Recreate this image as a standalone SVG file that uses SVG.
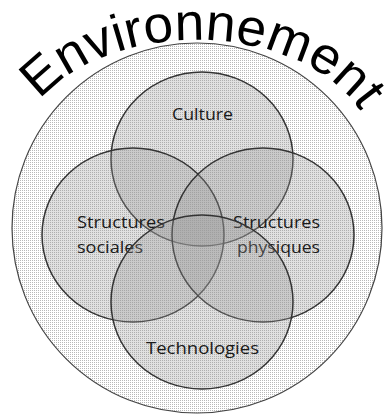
<svg xmlns="http://www.w3.org/2000/svg" width="384" height="414" viewBox="0 0 384 414">
  <defs>
    <pattern id="dots" width="2" height="2" patternUnits="userSpaceOnUse">
      <rect width="2" height="2" fill="#ffffff"/>
      <rect width="1" height="1" fill="#b8b8b8"/>
    </pattern>
    <path id="arc" d="M 40 100 A 180 120 0 0 1 374 142" fill="none"/>
  </defs>
  <style>
    .set { fill: #999999; fill-opacity: 0.3; stroke: #333333; stroke-width: 1.5; }
    .lbl { font-family: "Open Sans", "Noto Sans", sans-serif; font-size: 17px; fill: #1a1a1a; }
    .title { font-family: "Liberation Sans", Arial, sans-serif; font-size: 52px; fill: #000000; }
  </style>
  <rect width="384" height="414" fill="#ffffff"/>
  <g id="environnement">
    <circle cx="197" cy="228" r="185" fill="url(#dots)" stroke="#444444" stroke-width="1.2"/>
    <text class="title" textLength="358" lengthAdjust="spacingAndGlyphs"><textPath href="#arc" startOffset="0" textLength="358" lengthAdjust="spacingAndGlyphs">Environnement</textPath></text>
  </g>
  <g id="connectors"/>
  <g id="culture">
    <ellipse class="set" cx="202" cy="159" rx="91" ry="87"/>
    <text class="lbl" x="202.5" y="120" text-anchor="middle" textLength="61" lengthAdjust="spacingAndGlyphs">Culture</text>
  </g>
  <g id="structures-sociales">
    <ellipse class="set" cx="133" cy="235" rx="91" ry="87"/>
    <text class="lbl" x="77" y="228" textLength="88" lengthAdjust="spacingAndGlyphs">Structures</text>
    <text class="lbl" x="77" y="253" textLength="66" lengthAdjust="spacingAndGlyphs">sociales</text>
  </g>
  <g id="structures-physiques">
    <ellipse class="set" cx="263" cy="235" rx="91" ry="87"/>
    <text class="lbl" x="233" y="228" textLength="87" lengthAdjust="spacingAndGlyphs">Structures</text>
    <text class="lbl" x="237" y="253" textLength="83" lengthAdjust="spacingAndGlyphs">physiques</text>
  </g>
  <g id="technologies">
    <ellipse class="set" cx="202" cy="302" rx="91" ry="87"/>
    <text class="lbl" x="146" y="354" textLength="113" lengthAdjust="spacingAndGlyphs">Technologies</text>
  </g>
</svg>
